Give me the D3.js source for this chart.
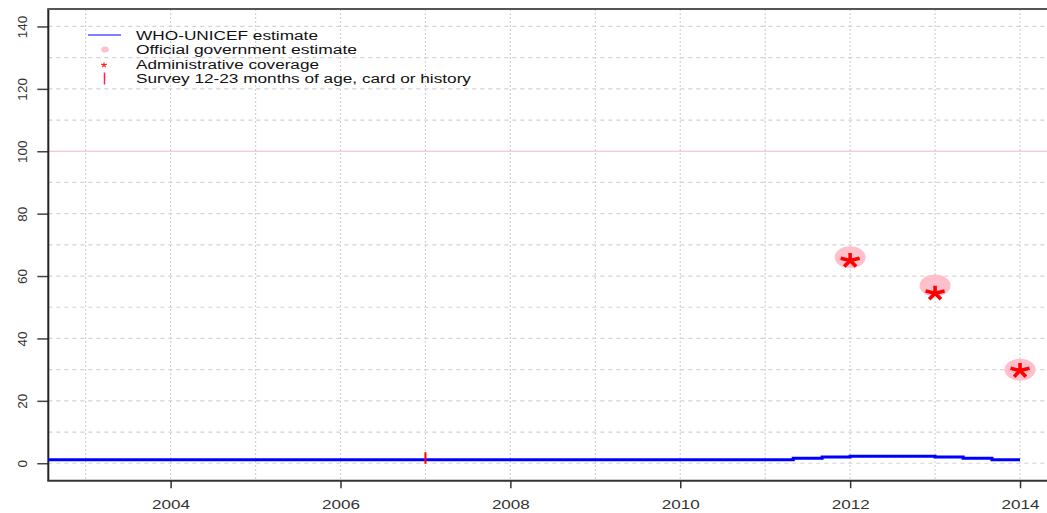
<!DOCTYPE html>
<html><head><meta charset="utf-8">
<script src="https://cdn.jsdelivr.net/npm/d3@7"></script>
<style>html,body{margin:0;padding:0;background:#fff;}svg{display:block;font-family:"Liberation Sans",Arial,sans-serif;}</style>
</head><body>
<svg id="chart" width="1047" height="513"></svg>
<script>
// ---- data ----
const whoYears  = [2002.5, 2011.33, 2011.67, 2012, 2013, 2013.33, 2013.67, 2014];
const whoValues = [1.1,    1.6,     2.0,     2.2,  2.0,  1.6,     1.1,     1.1];
const officialYears  = [2012, 2013, 2014];
const officialValues = [66, 57, 30];
const adminYears  = [2012, 2013, 2014];
const adminValues = [65, 54.5, 29.7];
const surveyYears  = [2007];
const surveyValues = [1.7];
const xTickYears = [2004, 2006, 2008, 2010, 2012, 2014];
const yTickValues = [0, 20, 40, 60, 80, 100, 120, 140];
const legendLabels = ["WHO-UNICEF estimate", "Official government estimate", "Administrative coverage", "Survey 12-23 months of age, card or history"];

// ---- layout ----
(function () {
const svg = d3.select("#chart");
const pl = 48.3, pb = 480.7, pt = 9, pr = 1057.4;
const x = d3.scaleLinear().domain([2002.56, 2014.44]).range([pl, pr]);
const y = d3.scaleLinear().domain([-5.6, 145.6]).range([pb, pt]);

svg.append("defs").append("clipPath").attr("id", "clip")
  .append("rect").attr("x", pl).attr("y", pt).attr("width", pr - pl).attr("height", pb - pt);

// grid
const grid = svg.append("g");
grid.selectAll("line.v").data(d3.range(2003, 2015)).join("line").attr("class", "v")
  .attr("x1", d => x(d)).attr("x2", d => x(d)).attr("y1", pt).attr("y2", pb)
  .attr("stroke", "#d3d3d3").attr("stroke-width", 1.2).attr("stroke-dasharray", "2,2");
grid.selectAll("line.h").data(d3.range(0, 141, 10).filter(v => v !== 100)).join("line").attr("class", "h")
  .attr("x1", pl).attr("x2", 1047).attr("y1", d => y(d)).attr("y2", d => y(d))
  .attr("stroke", "#d3d3d3").attr("stroke-width", 1.2).attr("stroke-dasharray", "4,4");
grid.append("line").attr("x1", pl).attr("x2", 1047).attr("y1", y(100)).attr("y2", y(100))
  .attr("stroke", "#f4b8c4").attr("stroke-width", 1.2);

// axes
const yAxis = d3.axisLeft(y).tickValues(yTickValues).tickSize(11).tickFormat(d3.format("d"));
const yg = svg.append("g").attr("transform", `translate(${pl},0)`).call(yAxis);
yg.select(".domain").remove();
yg.selectAll(".tick line").attr("stroke", "#444").attr("stroke-width", 1.5);
yg.selectAll(".tick text")
  .attr("transform", `translate(${22 - pl},0) rotate(-90)`)
  .attr("x", 0).attr("y", 0).attr("dy", "0.36em")
  .attr("text-anchor", "middle")
  .attr("font-size", 13.5).attr("fill", "#333")
  .attr("font-family", "Liberation Sans, Arial, sans-serif");

const xAxis = d3.axisBottom(x).tickValues(xTickYears).tickSize(7.5).tickFormat(d3.format("d"));
const xg = svg.append("g").attr("transform", `translate(0,${pb})`).call(xAxis);
xg.select(".domain").remove();
xg.selectAll(".tick line").attr("stroke", "#333").attr("stroke-width", 1.5);
xg.selectAll(".tick text").attr("y", 28).attr("dy", 0)
  .attr("font-size", 13.5).attr("fill", "#333")
  .attr("textLength", 38).attr("lengthAdjust", "spacingAndGlyphs")
  .attr("font-family", "Liberation Sans, Arial, sans-serif");

// box lines
svg.append("line").attr("x1", pl).attr("x2", pl).attr("y1", pt).attr("y2", pb).attr("stroke", "#222").attr("stroke-width", 2);
svg.append("line").attr("x1", pl - 1).attr("x2", 1047).attr("y1", pb).attr("y2", pb).attr("stroke", "#333").attr("stroke-width", 2);
svg.append("line").attr("x1", pl - 1).attr("x2", 1047).attr("y1", pt).attr("y2", pt).attr("stroke", "#555").attr("stroke-width", 2);

// marks
const plot = svg.append("g").attr("clip-path", "url(#clip)");
const whoData = whoYears.map((yr, i) => [yr, whoValues[i]]);
plot.append("path").datum(whoData)
  .attr("d", d3.line().x(d => x(d[0])).y(d => y(d[1])).curve(d3.curveStepAfter))
  .attr("fill", "none").attr("stroke", "#0000ff").attr("stroke-width", 3);

plot.selectAll("line.survey").data(surveyYears.map((yr, i) => [yr, surveyValues[i]])).join("line").attr("class", "survey")
  .attr("x1", d => x(d[0])).attr("x2", d => x(d[0]))
  .attr("y1", d => y(d[1]) - 5.7).attr("y2", d => y(d[1]) + 5.7)
  .attr("stroke", "#ff0000").attr("stroke-width", 2);

plot.selectAll("ellipse.off").data(officialYears.map((yr, i) => [yr, officialValues[i]])).join("ellipse").attr("class", "off")
  .attr("cx", d => x(d[0])).attr("cy", d => y(d[1])).attr("rx", 15.5).attr("ry", 11)
  .attr("fill", "#ffc0cb");

function asteriskPath(sx, sy) {
  const angles = [-90, -18, 54, 126, 198];
  return angles.map(a => {
    const r = a * Math.PI / 180;
    return `M0,0L${(Math.cos(r) * sx).toFixed(2)},${(Math.sin(r) * sy).toFixed(2)}`;
  }).join("");
}
plot.selectAll("path.adm").data(adminYears.map((yr, i) => [yr, adminValues[i]])).join("path").attr("class", "adm")
  .attr("transform", d => `translate(${x(d[0])},${y(d[1])})`)
  .attr("d", asteriskPath(10, 7.5))
  .attr("fill", "none").attr("stroke", "#ff0000").attr("stroke-width", 3.6).attr("stroke-linecap", "butt");

// legend
const lg = svg.append("g");
const rowY = [35, 49.5, 64, 78.5];
const textW = [182, 221, 183, 335];
lg.append("line").attr("x1", 88).attr("x2", 121).attr("y1", rowY[0]).attr("y2", rowY[0]).attr("stroke", "#0000ff").attr("stroke-width", 1.2);
lg.append("ellipse").attr("cx", 105).attr("cy", rowY[1]).attr("rx", 3.8).attr("ry", 3).attr("fill", "#ffc0cb");
lg.append("path").attr("transform", `translate(104,${rowY[2] + 1})`).attr("d", asteriskPath(3, 2.6))
  .attr("fill", "none").attr("stroke", "#ff2020").attr("stroke-width", 1.2);
lg.append("line").attr("x1", 104.5).attr("x2", 104.5).attr("y1", rowY[3] - 6).attr("y2", rowY[3] + 6).attr("stroke", "#ff2050").attr("stroke-width", 1.5);
lg.selectAll("text").data(legendLabels).join("text")
  .attr("x", 136).attr("y", (d, i) => rowY[i] + 4.5)
  .attr("font-size", 12.5).attr("fill", "#111")
  .attr("textLength", (d, i) => textW[i]).attr("lengthAdjust", "spacingAndGlyphs")
  .text(d => d);
})();
</script>
</body></html>
